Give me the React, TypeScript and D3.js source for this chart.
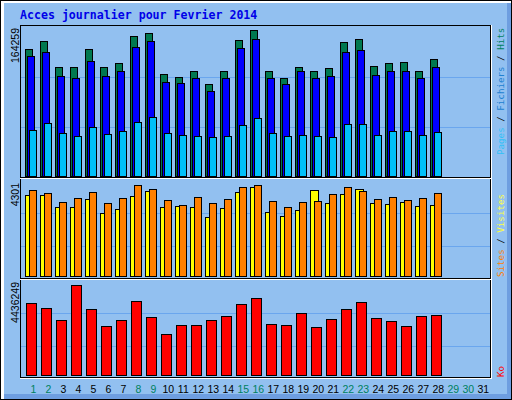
import React from 'react';
import * as d3 from 'd3';

// Fevrier 2014, one entry per day (1..28)
const days = d3.range(1, 32);
const weekendDays = [1, 2, 8, 9, 15, 16, 22, 23, 29, 30];

const hits = [
  143100, 150900, 123000, 123000, 142000, 123000, 127500, 156500, 160900, 115200,
  111900, 118600, 104100, 117500, 153100, 164259, 117500, 110800, 123000, 117500,
  121900, 149800, 154200, 124100, 127500, 128600, 118600, 131900,
];
const files = [
  134200, 139700, 113000, 109700, 129700, 113000, 118600, 145300, 150900, 106300,
  105200, 109700, 96300, 110800, 144200, 154200, 109700, 104100, 117500, 109700,
  113000, 139700, 140900, 114100, 118600, 118600, 110800, 123000,
];
const pages = [
  52800, 60600, 49500, 46100, 56200, 48400, 51700, 61700, 67300, 49500,
  47300, 46100, 45000, 46100, 58400, 66200, 49500, 46100, 47300, 46100,
  45000, 59500, 59500, 47300, 51700, 51700, 47300, 50600,
];
const visites = [
  3836, 3836, 3277, 3277, 3649, 2998, 3184, 3789, 4022, 3277,
  3324, 3277, 2812, 3231, 3975, 4208, 3044, 2858, 3137, 4068,
  3463, 3882, 4115, 3463, 3417, 3510, 3324, 3370,
];
const sites = [
  4068, 3929, 3510, 3696, 3975, 3463, 3696, 4301, 4115, 3603,
  3370, 3743, 3463, 3649, 4162, 4255, 3556, 3277, 3510, 3556,
  3882, 4208, 4022, 3649, 3743, 3603, 3696, 3929,
];
const ko = [
  3555800, 3311300, 2724300, 4436249, 3262400, 2430900, 2724300, 3653700, 2871100, 2039600,
  2479800, 2479800, 2724300, 2920000, 3506900, 3800400, 2528700, 2479800, 3066700, 2382000,
  2773300, 3262400, 3604800, 2822200, 2675400, 2430900, 2920000, 2968900,
];

const BG = '#92C0F0';
const GRID = '#6AA6EE';
const MONO = '"DejaVu Sans Mono", monospace';
const SANS = '"Liberation Sans", Arial, sans-serif';

const x = d3.scaleBand<number>().domain(days).range([25, 25 + 31 * 15]).padding(0);

const max1 = d3.max(hits) as number;
const max2 = d3.max([...sites, ...visites]) as number;
const max3 = d3.max(ko) as number;

const y1 = d3.scaleLinear().domain([0, max1]).range([177, 29.5]);
const y2 = d3.scaleLinear().domain([0, max2]).range([277, 184.5]);
const y3 = d3.scaleLinear().domain([0, max3]).range([375.5, 284.5]);

type Bar = { key: string; data: number[]; y: d3.ScaleLinear<number, number>; dx: number; w: number; color: string };

const bars: Bar[] = [
  { key: 'hits', data: hits, y: y1, dx: 0, w: 8, color: '#007850' },
  { key: 'files', data: files, y: y1, dx: 2, w: 8, color: '#0000FF' },
  { key: 'pages', data: pages, y: y1, dx: 4, w: 8, color: '#00C0F8' },
  { key: 'visites', data: visites, y: y2, dx: 0, w: 9, color: '#FFFF00' },
  { key: 'sites', data: sites, y: y2, dx: 4, w: 8, color: '#FF8000' },
  { key: 'ko', data: ko, y: y3, dx: 1, w: 11, color: '#FF0000' },
];

const gridY = [77, 127, 213, 246, 313, 346];

export default function App() {
  return (
    <svg width={512} height={400} style={{ display: 'block', position: 'absolute', left: 0, top: 0 }} shapeRendering="crispEdges">
      <rect x={0} y={0} width={512} height={400} fill={BG} />
      {/* outer 3d frame */}
      <rect x={507} y={0} width={5} height={400} fill="#6E9EE0" />
      <rect x={0} y={394} width={512} height={6} fill="#6E9EE0" />
      <rect x={0} y={0} width={512} height={3} fill="#fff" />
      <rect x={0} y={0} width={4} height={400} fill="#fff" />
      <rect x={0.5} y={0.5} width={511} height={399} fill="none" stroke="#000" />

      <text x={20} y={19} fontFamily={MONO} fontWeight="bold" fontSize={11.6} fill="#0000E8">
        Acces journalier pour Fevrier 2014
      </text>

      {gridY.map((g) => (
        <line key={g} x1={21} x2={490} y1={g + 0.5} y2={g + 0.5} stroke={GRID} />
      ))}

      {bars.map((b) =>
        b.data.map((v, i) => {
          const x0 = x(i + 1) as number;
          const top = Math.round(b.y(v));
          const base = Math.round(b.y(0));
          return (
            <rect
              key={b.key + i}
              x={x0 + b.dx + 0.5}
              y={top + 0.5}
              width={b.w - 1}
              height={base - top - 1}
              fill={b.color}
              stroke="#000"
            />
          );
        })
      )}

      {/* panel frames */}
      <line x1={20} x2={491} y1={25.5} y2={25.5} stroke="#000" />
      <line x1={20.5} x2={20.5} y1={25} y2={378} stroke="#000" />
      <line x1={490.5} x2={490.5} y1={25} y2={378} stroke="#000" />
      <line x1={491.5} x2={491.5} y1={25} y2={379} stroke="#fff" />
      {[177, 278, 377].map((b) => (
        <g key={b}>
          <line x1={20} x2={491} y1={b + 0.5} y2={b + 0.5} stroke="#000" />
          <line x1={20} x2={492} y1={b + 1.5} y2={b + 1.5} stroke="#fff" />
        </g>
      ))}

      {/* max labels */}
      {[
        { t: String(max1), y: 28 },
        { t: String(max2), y: 183 },
        { t: String(max3), y: 282 },
      ].map((l) => (
        <text key={l.t} transform={`translate(19,${l.y}) rotate(-90)`} textAnchor="end" fontFamily={SANS} fontSize={10.5} fill="#000">
          {l.t}
        </text>
      ))}

      {/* right legends */}
      <text transform="translate(504,155) rotate(-90)" fontFamily={MONO} fontSize={9.2}>
        <tspan fill="#30C0F8">Pages</tspan>
        <tspan fill="#000"> / </tspan>
        <tspan fill="#2080D0">Fichiers</tspan>
        <tspan fill="#000"> / </tspan>
        <tspan fill="#008060">Hits</tspan>
      </text>
      <text transform="translate(504,277) rotate(-90)" fontFamily={MONO} fontSize={9.2}>
        <tspan fill="#FF8000">Sites</tspan>
        <tspan fill="#000"> / </tspan>
        <tspan fill="#FFFF40">Visites</tspan>
      </text>
      <text transform="translate(504,377) rotate(-90)" fontFamily={MONO} fontSize={9.2} fill="#FF0000">
        Ko
      </text>

      {/* day labels */}
      {days.map((d) => (
        <text
          key={d}
          x={(x(d) as number) + 8.3}
          y={393}
          textAnchor="middle"
          fontFamily={SANS}
          fontSize={10.5}
          fill={weekendDays.includes(d) ? '#008060' : '#000'}
        >
          {d}
        </text>
      ))}
    </svg>
  );
}
